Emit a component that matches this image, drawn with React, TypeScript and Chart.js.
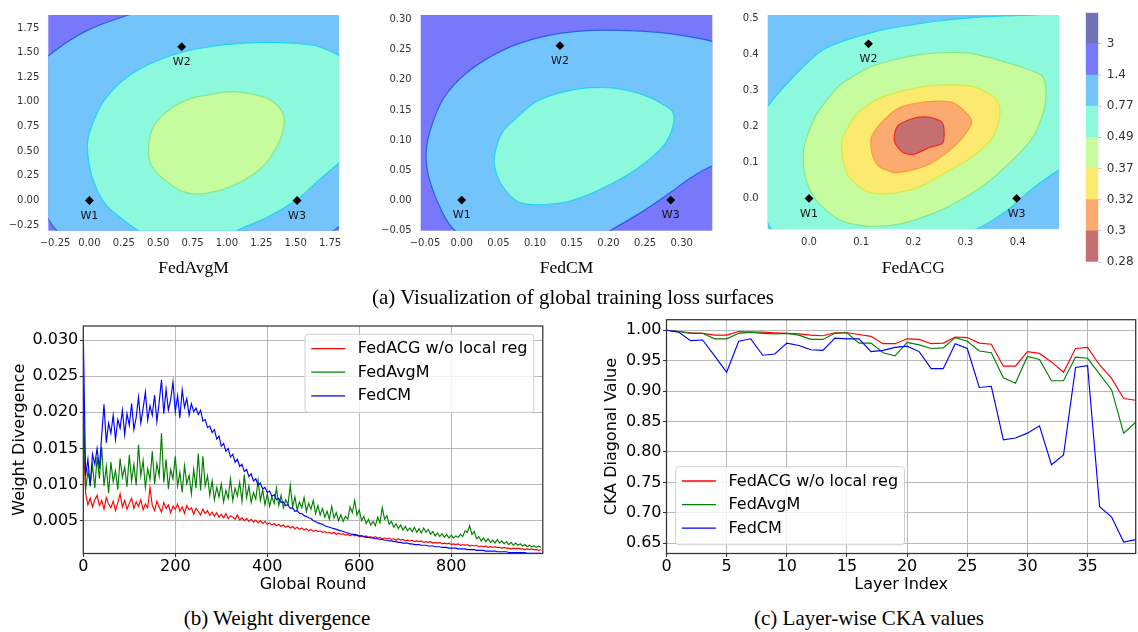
import React, { useEffect, useRef } from 'react';
import { Chart, registerables } from 'chart.js';

Chart.register(...registerables);

const SANS = "'DejaVu Sans', sans-serif";
const SERIF = "'Liberation Serif', 'Times New Roman', serif";
const MINUS = '\u2212';

type Pt = [number, number];

// ---------------- colour levels (colour bar, bottom -> top) ----------------
const levelLabels = ['0.28', '0.3', '0.32', '0.37', '0.49', '0.77', '1.4', '3'];
const bandColors = ['#c47070', '#fbaa70', '#fbe970', '#c6fb9e', '#8cf8dc', '#72c4fb', '#7878fa', '#7171b8'];
// line colours of the iso-lines 0.3, 0.32, 0.37, 0.49, 0.77, 1.4
const line030 = '#f22a1e';
const line032 = '#ff9933';
const line037 = '#d4ee44';
const line049 = '#86e886';
const line077 = '#22d3f5';
const line14 = '#2a5de8';

// ---------------- (a) FedAvgM surface ----------------
const avgmTicks = [-0.25, 0, 0.25, 0.5, 0.75, 1, 1.25, 1.5, 1.75];
const avgmMarkers: Pt[] = [[0, 0], [0.671, 1.559], [1.51, 0]];
const avgmUnder14: Pt[] = [
  [-0.5, 1.2], [-0.298, 1.468], [-0.044, 1.705], [0.283, 1.881], [0.75, 2.06], [1.55, 2.15], [2.1, 1.75],
  [2.25, 0.8], [2.08, 0.05], [1.816, -0.262], [1.775, -0.306], [1.45, -0.52], [0.75, -0.66], [-0.05, -0.52],
  [-0.238, -0.306], [-0.298, -0.19], [-0.45, 0.25], [-0.56, 0.8],
];
const avgmUnder077: Pt[] = [
  [1.816, 1.469], [1.617, 1.577], [1.193, 1.6], [0.805, 1.544], [0.514, 1.43], [0.272, 1.25], [0.102, 1.004],
  [0.005, 0.71], [-0.015, 0.546], [0.017, 0.252], [0.102, -0.01], [0.223, -0.173], [0.356, -0.306], [0.55, -0.45],
  [0.85, -0.48], [1.072, -0.306], [1.29, -0.173], [1.508, 0.007], [1.678, 0.219], [1.816, 0.383], [1.98, 0.62],
  [2.04, 1.0], [1.97, 1.33],
];
const avgmUnder049: Pt[] = [
  [0.429, 0.481], [0.453, 0.71], [0.538, 0.873], [0.708, 1.021], [0.926, 1.086], [1.072, 1.102], [1.29, 1.037],
  [1.399, 0.906], [1.416, 0.775], [1.375, 0.579], [1.265, 0.35], [1.096, 0.186], [0.853, 0.072], [0.684, 0.088],
  [0.538, 0.219], [0.453, 0.35],
];

// ---------------- (a) FedCM surface ----------------
const cmTicks = [-0.05, 0, 0.05, 0.1, 0.15, 0.2, 0.25, 0.3];
const cmMarkers: Pt[] = [[0, 0], [0.134, 0.257], [0.285, 0]];
const cmUnder14: Pt[] = [
  [-0.009, -0.051], [-0.0295, -0.0125], [-0.0455, 0.041], [-0.0486, 0.078], [-0.043, 0.116], [-0.025, 0.169],
  [0.0068, 0.212], [0.057, 0.25], [0.111, 0.272], [0.17, 0.282], [0.23, 0.282], [0.284, 0.277], [0.342, 0.264],
  [0.4, 0.24], [0.42, 0.15], [0.4, 0.08], [0.342, 0.057], [0.311, 0.036], [0.284, 0.012], [0.248, -0.018],
  [0.202, -0.051], [0.15, -0.085], [0.05, -0.09],
];
const cmUnder077: Pt[] = [
  [0.0445, 0.0733], [0.0545, 0.111], [0.0705, 0.132], [0.102, 0.164], [0.139, 0.18], [0.175, 0.187], [0.211, 0.186],
  [0.248, 0.175], [0.275, 0.159], [0.288, 0.146], [0.288, 0.122], [0.275, 0.09], [0.239, 0.052], [0.193, 0.02],
  [0.148, -0.0016], [0.102, -0.008], [0.075, -0.0016], [0.0545, 0.025], [0.0455, 0.052],
];

// ---------------- (a) FedACG surface ----------------
const acgTicks = [0, 0.1, 0.2, 0.3, 0.4];
const acgYTicks = [0, 0.1, 0.2, 0.3, 0.4, 0.5];
const acgMarkers: Pt[] = [[0, 0], [0.114, 0.429], [0.398, 0]];
const acgUnder077: Pt[] = [
  [-0.079, 0.256], [-0.036, 0.328], [0.027, 0.4125], [0.123, 0.4616], [0.251, 0.493], [0.35, 0.505], [0.44, 0.51],
  [0.56, 0.53], [0.62, 0.32], [0.57, 0.13], [0.479, 0.078], [0.43, 0.0286], [0.379, -0.034], [0.321, -0.085],
  [0.22, -0.13], [0.0, -0.13], [-0.0716, -0.085], [-0.079, -0.0697], [-0.12, 0.0], [-0.13, 0.14],
];
const acgUnder049: Pt[] = [
  [-0.0109, 0.1], [-0.0077, 0.154], [0.0147, 0.234], [0.0594, 0.314], [0.123, 0.368], [0.213, 0.399], [0.302, 0.404],
  [0.379, 0.377], [0.446, 0.341], [0.454, 0.305], [0.45, 0.243], [0.43, 0.171], [0.392, 0.109], [0.328, 0.0286],
  [0.251, -0.034], [0.174, -0.0715], [0.111, -0.0768], [0.0594, -0.0607], [0.0147, -0.0071], [-0.0045, 0.0464],
];
const acgUnder037: Pt[] = [
  [0.0626, 0.1447], [0.0658, 0.1715], [0.0914, 0.234], [0.1297, 0.274], [0.187, 0.301], [0.245, 0.314], [0.315, 0.31],
  [0.36, 0.274], [0.366, 0.234], [0.353, 0.1715], [0.315, 0.118], [0.264, 0.0732], [0.206, 0.0286], [0.149, 0.0125],
  [0.1105, 0.0196], [0.0786, 0.0554], [0.0658, 0.1],
];
const acgUnder032: Pt[] = [
  [0.1188, 0.1447], [0.12, 0.1715], [0.1425, 0.216], [0.1744, 0.252], [0.2256, 0.268], [0.2767, 0.265],
  [0.3118, 0.216], [0.2958, 0.1715], [0.2639, 0.127], [0.2256, 0.0911], [0.168, 0.0715], [0.136, 0.0866],
  [0.1233, 0.1134],
];
const acgUnder030: Pt[] = [
  [0.1636, 0.176], [0.1712, 0.2028], [0.2, 0.2224], [0.232, 0.2251], [0.2543, 0.2117], [0.2588, 0.1894],
  [0.2562, 0.1536], [0.232, 0.142], [0.216, 0.1313], [0.2, 0.1224], [0.1808, 0.1268], [0.1649, 0.1536],
];
const markerNames = ['W1', 'W2', 'W3'];

// ---------------- (b) Weight divergence ----------------
const roundsB = Array.from({ length: 200 }, (_, i) => i * 5);
const roundTicks = [0, 200, 400, 600, 800];
const divTicks = [0.005, 0.01, 0.015, 0.02, 0.025, 0.03];
const fedacgDiv = [
  0.0170, 0.0088, 0.0072, 0.0081, 0.0069, 0.0079, 0.0085, 0.0071, 0.0078, 0.0066,
  0.0082, 0.0073, 0.0068, 0.0077, 0.0064, 0.0075, 0.0087, 0.0069, 0.0078, 0.0066,
  0.0074, 0.0081, 0.0067, 0.0076, 0.0070, 0.0079, 0.0065, 0.0073, 0.0068, 0.0096,
  0.0071, 0.0064, 0.0077, 0.0069, 0.0062, 0.0075, 0.0067, 0.0072, 0.0061, 0.0070,
  0.0066, 0.0073, 0.0063, 0.0069, 0.0060, 0.0071, 0.0065, 0.0068, 0.0059, 0.0067,
  0.0063, 0.0058, 0.0066, 0.0060, 0.0064, 0.0057, 0.0062, 0.0056, 0.0061, 0.0055,
  0.0059, 0.0054, 0.0060, 0.0053, 0.0057, 0.0055, 0.0052, 0.0058, 0.0051, 0.0054,
  0.0050, 0.0053, 0.0049, 0.0052, 0.0048, 0.0051, 0.0047, 0.0050, 0.0046, 0.0049,
  0.0045, 0.0047, 0.0044, 0.0046, 0.0043, 0.0045, 0.0042, 0.0044, 0.0041, 0.0043,
  0.0040, 0.0042, 0.0039, 0.0041, 0.0038, 0.0040, 0.0037, 0.0039, 0.0036, 0.0038,
  0.0035, 0.0037, 0.0035, 0.0036, 0.0034, 0.0035, 0.0033, 0.0034, 0.0032, 0.0034,
  0.0031, 0.0033, 0.0031, 0.0032, 0.0030, 0.0031, 0.0029, 0.0031, 0.0029, 0.0030,
  0.0028, 0.0029, 0.0028, 0.0029, 0.0027, 0.0028, 0.0026, 0.0028, 0.0026, 0.0027,
  0.0025, 0.0026, 0.0025, 0.0026, 0.0024, 0.0025, 0.0023, 0.0025, 0.0023, 0.0024,
  0.0022, 0.0023, 0.0022, 0.0023, 0.0021, 0.0022, 0.0021, 0.0022, 0.0020, 0.0021,
  0.0020, 0.0021, 0.0019, 0.0020, 0.0019, 0.0020, 0.0018, 0.0019, 0.0018, 0.0019,
  0.0017, 0.0018, 0.0017, 0.0018, 0.0016, 0.0017, 0.0016, 0.0017, 0.0015, 0.0016,
  0.0015, 0.0016, 0.0014, 0.0015, 0.0014, 0.0015, 0.0013, 0.0014, 0.0013, 0.0014,
  0.0013, 0.0013, 0.0012, 0.0013, 0.0012, 0.0012, 0.0011, 0.0012, 0.0011, 0.0012,
  0.0011, 0.0011, 0.0010, 0.0011, 0.0010, 0.0011, 0.0010, 0.0010, 0.0009, 0.0010,
];
const fedavgmDiv = [
  0.0230, 0.0092, 0.0118, 0.0101, 0.0127, 0.0095, 0.0138, 0.0108, 0.0152, 0.0098,
  0.0125, 0.0088, 0.0131, 0.0104, 0.0119, 0.0093, 0.0136, 0.0110, 0.0124, 0.0097,
  0.0141, 0.0105, 0.0128, 0.0099, 0.0155, 0.0112, 0.0133, 0.0096, 0.0122, 0.0107,
  0.0146, 0.0101, 0.0129, 0.0112, 0.0171, 0.0103, 0.0135, 0.0094, 0.0121, 0.0108,
  0.0139, 0.0098, 0.0117, 0.0089, 0.0126, 0.0101, 0.0113, 0.0087, 0.0121, 0.0095,
  0.0143, 0.0092, 0.0139, 0.0098, 0.0112, 0.0085, 0.0105, 0.0079, 0.0096, 0.0083,
  0.0101, 0.0076, 0.0092, 0.0081, 0.0108, 0.0078, 0.0095, 0.0084, 0.0103, 0.0077,
  0.0114, 0.0082, 0.0098, 0.0075, 0.0089, 0.0080, 0.0106, 0.0078, 0.0093, 0.0072,
  0.0087, 0.0070, 0.0083, 0.0074, 0.0095, 0.0071, 0.0085, 0.0068, 0.0079, 0.0072,
  0.0099, 0.0069, 0.0083, 0.0065, 0.0076, 0.0068, 0.0082, 0.0063, 0.0074, 0.0066,
  0.0078, 0.0060, 0.0071, 0.0058, 0.0067, 0.0055, 0.0063, 0.0052, 0.0070, 0.0054,
  0.0061, 0.0050, 0.0058, 0.0049, 0.0056, 0.0052, 0.0069, 0.0061, 0.0078, 0.0058,
  0.0065, 0.0050, 0.0056, 0.0046, 0.0052, 0.0044, 0.0049, 0.0043, 0.0055, 0.0047,
  0.0068, 0.0052, 0.0057, 0.0045, 0.0049, 0.0041, 0.0046, 0.0039, 0.0044, 0.0037,
  0.0042, 0.0036, 0.0040, 0.0035, 0.0041, 0.0034, 0.0039, 0.0033, 0.0040, 0.0034,
  0.0038, 0.0031, 0.0035, 0.0029, 0.0033, 0.0028, 0.0032, 0.0027, 0.0031, 0.0026,
  0.0030, 0.0026, 0.0029, 0.0027, 0.0031, 0.0028, 0.0036, 0.0034, 0.0043, 0.0031,
  0.0035, 0.0025, 0.0028, 0.0022, 0.0026, 0.0021, 0.0025, 0.0020, 0.0023, 0.0019,
  0.0024, 0.0019, 0.0022, 0.0018, 0.0021, 0.0017, 0.0020, 0.0016, 0.0019, 0.0016,
  0.0018, 0.0015, 0.0017, 0.0014, 0.0016, 0.0014, 0.0015, 0.0013, 0.0015, 0.0013,
];
const fedcmDiv = [
  0.0310, 0.0112, 0.0135, 0.0098, 0.0142, 0.0128, 0.0150, 0.0122, 0.0168, 0.0211,
  0.0158, 0.0185, 0.0171, 0.0196, 0.0162, 0.0190, 0.0178, 0.0203, 0.0169, 0.0198,
  0.0182, 0.0212, 0.0176, 0.0193, 0.0221, 0.0185, 0.0205, 0.0228, 0.0189, 0.0209,
  0.0196, 0.0224, 0.0187, 0.0214, 0.0245, 0.0198, 0.0232, 0.0203, 0.0218, 0.0242,
  0.0201, 0.0223, 0.0192, 0.0231, 0.0207, 0.0219, 0.0196, 0.0212, 0.0201, 0.0206,
  0.0197, 0.0203, 0.0188, 0.0190, 0.0179, 0.0181, 0.0172, 0.0176, 0.0163, 0.0167,
  0.0153, 0.0157, 0.0146, 0.0150, 0.0138, 0.0142, 0.0131, 0.0135, 0.0125, 0.0128,
  0.0118, 0.0121, 0.0111, 0.0115, 0.0105, 0.0108, 0.0099, 0.0102, 0.0094, 0.0096,
  0.0089, 0.0091, 0.0084, 0.0086, 0.0079, 0.0081, 0.0075, 0.0076, 0.0071, 0.0072,
  0.0067, 0.0068, 0.0063, 0.0064, 0.0060, 0.0060, 0.0057, 0.0056, 0.0054, 0.0053,
  0.0050, 0.0049, 0.0047, 0.0046, 0.0045, 0.0043, 0.0042, 0.0041, 0.0040, 0.0039,
  0.0038, 0.0037, 0.0036, 0.0035, 0.0034, 0.0033, 0.0032, 0.0031, 0.0031, 0.0030,
  0.0029, 0.0029, 0.0028, 0.0027, 0.0027, 0.0026, 0.0026, 0.0025, 0.0025, 0.0024,
  0.0024, 0.0023, 0.0023, 0.0022, 0.0022, 0.0021, 0.0021, 0.0020, 0.0020, 0.0019,
  0.0019, 0.0019, 0.0018, 0.0018, 0.0017, 0.0017, 0.0017, 0.0016, 0.0016, 0.0016,
  0.0015, 0.0015, 0.0015, 0.0014, 0.0014, 0.0014, 0.0013, 0.0013, 0.0013, 0.0012,
  0.0012, 0.0012, 0.0012, 0.0011, 0.0011, 0.0011, 0.0011, 0.0010, 0.0010, 0.0010,
  0.0010, 0.0009, 0.0009, 0.0009, 0.0009, 0.0008, 0.0008, 0.0008, 0.0008, 0.0008,
  0.0007, 0.0007, 0.0007, 0.0007, 0.0007, 0.0006, 0.0006, 0.0006, 0.0006, 0.0006,
  0.0006, 0.0006, 0.0006, 0.0005, 0.0005, 0.0005, 0.0005, 0.0005, 0.0005, 0.0005,
];

// ---------------- (c) Layer-wise CKA ----------------
const layersC = Array.from({ length: 40 }, (_, i) => i);
const layerTicks = [0, 5, 10, 15, 20, 25, 30, 35];
const ckaTicks = [0.65, 0.7, 0.75, 0.8, 0.85, 0.9, 0.95, 1.0];
const fedacgCka = [
  1.0, 0.998, 0.996, 0.995, 0.992, 0.992, 0.998, 0.997, 0.997, 0.996,
  0.995, 0.994, 0.992, 0.991, 0.996, 0.996, 0.993, 0.99, 0.978, 0.978,
  0.986, 0.985, 0.978, 0.979, 0.989, 0.988, 0.979, 0.977, 0.941, 0.941,
  0.965, 0.962, 0.948, 0.931, 0.97, 0.972, 0.943, 0.921, 0.888, 0.885,
];
const fedavgmCka = [
  1.0, 0.998, 0.995, 0.995, 0.986, 0.986, 0.995, 0.997, 0.995, 0.994,
  0.995, 0.992, 0.985, 0.985, 0.995, 0.996, 0.979, 0.979, 0.963, 0.958,
  0.98, 0.976, 0.97, 0.971, 0.988, 0.982, 0.966, 0.963, 0.922, 0.913,
  0.957, 0.952, 0.917, 0.917, 0.956, 0.954, 0.928, 0.902, 0.831, 0.849,
];
const fedcmCka = [
  1.0, 0.997, 0.983, 0.984, 0.958, 0.931, 0.982, 0.986, 0.959, 0.961,
  0.979, 0.975, 0.968, 0.967, 0.987, 0.986, 0.986, 0.965, 0.967, 0.972,
  0.974, 0.965, 0.937, 0.937, 0.978, 0.97, 0.906, 0.908, 0.82, 0.823,
  0.831, 0.843, 0.779, 0.795, 0.939, 0.942, 0.71, 0.693, 0.652, 0.656,
];

const seriesNames = ['FedACG w/o local reg', 'FedAvgM', 'FedCM'];
const seriesColors = ['#ff0000', '#008000', '#0000ff'];

// ---------------- helpers ----------------
const fmt = (v: number, d: number) => (v < -1e-9 ? MINUS : '') + Math.abs(v).toFixed(d);
const toXY = (pts: Pt[]) => pts.map(([x, y]) => ({ x, y }));

const closedLoop = {
  id: 'closedLoop',
  afterDatasetUpdate(chart: any, args: any) {
    const ds: any = chart.data.datasets[args.index];
    if (ds && ds.closed && args.meta.dataset) {
      const line = args.meta.dataset;
      line._loop = true;
      line._fullLoop = true;
      delete line._segments;
      delete line._path;
      line._pointsUpdated = false;
    }
  },
};

const areaBg = (color: string) => ({
  id: 'areaBg',
  beforeDatasetsDraw(chart: any) {
    const { ctx, chartArea: a } = chart;
    ctx.save();
    ctx.fillStyle = color;
    ctx.fillRect(a.left, a.top, a.right - a.left, a.bottom - a.top);
    ctx.restore();
  },
});

const pointNames = (names: string[]) => ({
  id: 'pointNames',
  afterDatasetsDraw(chart: any) {
    const meta = chart.getDatasetMeta(0);
    const ctx = chart.ctx;
    ctx.save();
    ctx.font = `11px ${SANS}`;
    ctx.fillStyle = '#111';
    ctx.textAlign = 'center';
    ctx.textBaseline = 'middle';
    meta.data.forEach((el: any, i: number) => ctx.fillText(names[i], el.x, el.y + 15.5));
    ctx.restore();
  },
});

const frame = {
  id: 'frame',
  afterDatasetsDraw(chart: any) {
    const { ctx, chartArea: a } = chart;
    ctx.save();
    ctx.strokeStyle = '#333';
    ctx.lineWidth = 1.25;
    ctx.strokeRect(a.left, a.top, a.right - a.left, a.bottom - a.top);
    ctx.restore();
  },
};

const boxLegend = (anchor: 'tr' | 'bl') => ({
  id: 'boxLegend',
  afterDraw(chart: any) {
    const { ctx, chartArea: a } = chart;
    ctx.save();
    ctx.font = `16px ${SANS}`;
    const tw = Math.max(...seriesNames.map((s) => ctx.measureText(s).width));
    const w = 6.2 + 34 + 12.6 + tw + 6.4;
    const h = 78;
    const left = anchor === 'tr' ? a.right - 9 - w : a.left + 9.2;
    const top = anchor === 'tr' ? a.top + 8.3 : a.bottom - 8.8 - h;
    ctx.beginPath();
    if ((ctx as any).roundRect) (ctx as any).roundRect(left, top, w, h, 3);
    else ctx.rect(left, top, w, h);
    ctx.fillStyle = 'rgba(255,255,255,0.8)';
    ctx.fill();
    ctx.strokeStyle = '#d0d0d0';
    ctx.lineWidth = 1;
    ctx.stroke();
    seriesNames.forEach((name, i) => {
      const y = top + 14.3 + i * 23.6;
      ctx.beginPath();
      ctx.moveTo(left + 6.2, y);
      ctx.lineTo(left + 6.2 + 34, y);
      ctx.strokeStyle = seriesColors[i];
      ctx.lineWidth = 1.3;
      ctx.stroke();
      ctx.fillStyle = '#000';
      ctx.textAlign = 'left';
      ctx.textBaseline = 'middle';
      ctx.fillText(name, left + 6.2 + 34 + 12.6, y + 0.5);
    });
    ctx.restore();
  },
});

interface Region { pts: Pt[]; fill: string; line: string }
interface Surface {
  xMin: number; xMax: number; yMin: number; yMax: number;
  xTicks: number[]; yTicks: number[]; dec: number; bg: string;
  regions: Region[]; markers: Pt[]; tension: number;
  yAxisW: number; xAxisH: number; padTop: number; padRight: number;
}

function surfaceConfig(p: Surface): any {
  const datasets: any[] = [
    {
      data: toXY(p.markers), showLine: false, pointStyle: 'rectRot', pointRadius: 4.4,
      pointBackgroundColor: '#000', pointBorderColor: '#000', pointBorderWidth: 0, order: 0, clip: false,
    },
    ...p.regions.map((r, i) => ({
      data: toXY(r.pts), closed: true, fill: 'shape', backgroundColor: r.fill, borderColor: r.line,
      borderWidth: 1.2, pointRadius: 0, pointHitRadius: 0, tension: p.tension, spanGaps: true,
      capBezierPoints: false, clip: 0, order: 100 - i,
    })),
  ];
  const tickFont = { family: SANS, size: 10 };
  return {
    type: 'line',
    data: { datasets },
    plugins: [closedLoop, areaBg(p.bg), pointNames(markerNames)],
    options: {
      animation: false, responsive: false, devicePixelRatio: 1, events: [],
      layout: { autoPadding: false, padding: { left: 0, top: p.padTop, right: p.padRight, bottom: 0 } },
      plugins: { legend: { display: false }, tooltip: { enabled: false } },
      scales: {
        x: {
          type: 'linear', min: p.xMin, max: p.xMax,
          afterBuildTicks: (s: any) => { s.ticks = p.xTicks.map((v) => ({ value: v })); },
          afterFit: (s: any) => { s.height = p.xAxisH; },
          grid: { display: false, drawTicks: false }, border: { display: false },
          ticks: { autoSkip: false, maxRotation: 0, padding: 7, color: '#333', font: tickFont,
            callback: (v: any) => fmt(Number(v), p.dec) },
        },
        y: {
          type: 'linear', min: p.yMin, max: p.yMax,
          afterBuildTicks: (s: any) => { s.ticks = p.yTicks.map((v) => ({ value: v })); },
          afterFit: (s: any) => { s.width = p.yAxisW; },
          grid: { display: false, drawTicks: false }, border: { display: false },
          ticks: { autoSkip: false, padding: 9, color: '#333', font: tickFont,
            callback: (v: any) => fmt(Number(v), p.dec) },
        },
      },
    },
  };
}

const colorbarConfig = (): any => ({
  type: 'bar',
  data: {
    labels: [''],
    datasets: bandColors.map((c) => ({ data: [1], backgroundColor: c, borderWidth: 0, barPercentage: 1, categoryPercentage: 1 })),
  },
  options: {
    animation: false, responsive: false, devicePixelRatio: 1, events: [],
    layout: { autoPadding: false, padding: { left: 5.7, top: 7.3, right: 0, bottom: 13 } },
    plugins: { legend: { display: false }, tooltip: { enabled: false } },
    scales: {
      x: { display: false, stacked: true },
      y: {
        position: 'right', stacked: true, min: 0, max: levelLabels.length,
        afterBuildTicks: (s: any) => { s.ticks = levelLabels.map((_, i) => ({ value: i })); },
        afterFit: (s: any) => { s.width = 39.7; },
        grid: { drawOnChartArea: false, drawTicks: true, tickLength: 3, tickColor: '#c8c8c8', color: '#c8c8c8' },
        border: { display: false },
        ticks: { padding: 5.5, color: '#333', font: { family: SANS, size: 12 },
          callback: (v: any) => levelLabels[Math.round(Number(v))] },
      },
    },
  },
});

interface LinePanel {
  xs: number[]; series: number[][]; xMin: number; xMax: number; yMin: number; yMax: number;
  xTicks: number[]; yTicks: number[]; yDec: number; xTitle: string; yTitle: string;
  pad: { left: number; top: number; right: number; bottom: number }; yAxisW: number; xAxisH: number;
  legend: 'tr' | 'bl';
}

function lineConfig(p: LinePanel): any {
  const font = { family: SANS, size: 16 };
  const grid = { color: '#b8b8b8', lineWidth: 1, drawTicks: true, tickLength: 3.5, tickColor: '#333', tickWidth: 1.1 };
  return {
    type: 'line',
    data: {
      labels: p.xs,
      datasets: p.series.map((s, i) => ({
        label: seriesNames[i], data: s, borderColor: seriesColors[i], backgroundColor: seriesColors[i],
        borderWidth: 1.15, pointRadius: 0, tension: 0, fill: false, order: 3 - i,
      })),
    },
    plugins: [frame, boxLegend(p.legend)],
    options: {
      animation: false, responsive: false, devicePixelRatio: 1, events: [],
      layout: { autoPadding: false, padding: p.pad },
      plugins: { legend: { display: false }, tooltip: { enabled: false } },
      scales: {
        x: {
          type: 'linear', min: p.xMin, max: p.xMax,
          afterBuildTicks: (s: any) => { s.ticks = p.xTicks.map((v) => ({ value: v })); },
          afterFit: (s: any) => { s.height = p.xAxisH; },
          grid, border: { display: false },
          ticks: { autoSkip: false, maxRotation: 0, padding: 0.5, color: '#000', font, callback: (v: any) => String(v) },
          title: { display: true, text: p.xTitle, color: '#000', font, padding: 0 },
        },
        y: {
          type: 'linear', min: p.yMin, max: p.yMax,
          afterBuildTicks: (s: any) => { s.ticks = p.yTicks.map((v) => ({ value: v })); },
          afterFit: (s: any) => { s.width = p.yAxisW; },
          grid, border: { display: false },
          ticks: { autoSkip: false, padding: 1.5, color: '#000', font, callback: (v: any) => Number(v).toFixed(p.yDec) },
          title: { display: true, text: p.yTitle, color: '#000', font, padding: 0 },
        },
      },
    },
  };
}

function ChartCanvas(props: { left: number; top: number; width: number; height: number; build: () => any }) {
  const ref = useRef<HTMLCanvasElement | null>(null);
  useEffect(() => {
    if (!ref.current) return;
    const chart = new Chart(ref.current, props.build());
    return () => chart.destroy();
  }, []);
  const { left, top, width, height } = props;
  return (
    <canvas
      ref={ref}
      width={width}
      height={height}
      style={{ position: 'absolute', left, top, width, height, display: 'block' }}
    />
  );
}

function Caption(props: { x: number; y: number; size: number; text: string }) {
  return (
    <div
      style={{
        position: 'absolute', left: props.x, top: props.y, transform: 'translate(-50%, -50%)',
        fontFamily: SERIF, fontSize: props.size, lineHeight: 1, whiteSpace: 'nowrap', color: '#000',
      }}
    >
      {props.text}
    </div>
  );
}

export default function App() {
  const avgm: Surface = {
    xMin: -0.299, xMax: 1.815, yMin: -0.306, yMax: 1.881, xTicks: avgmTicks, yTicks: avgmTicks, dec: 2,
    bg: bandColors[6], tension: 0.35, markers: avgmMarkers,
    regions: [
      { pts: avgmUnder14, fill: bandColors[5], line: line14 },
      { pts: avgmUnder077, fill: bandColors[4], line: line077 },
      { pts: avgmUnder049, fill: bandColors[3], line: line049 },
    ],
    yAxisW: 48.3, xAxisH: 31.3, padTop: 7.3, padRight: 21,
  };
  const cm: Surface = {
    xMin: -0.0559, xMax: 0.3417, yMin: -0.051, yMax: 0.308, xTicks: cmTicks, yTicks: cmTicks, dec: 2,
    bg: bandColors[6], tension: 0.35, markers: cmMarkers,
    regions: [
      { pts: cmUnder14, fill: bandColors[5], line: line14 },
      { pts: cmUnder077, fill: bandColors[4], line: line077 },
    ],
    yAxisW: 48.7, xAxisH: 31.3, padTop: 7.3, padRight: 19.7,
  };
  const acg: Surface = {
    xMin: -0.0792, xMax: 0.4792, yMin: -0.085, yMax: 0.509, xTicks: acgTicks, yTicks: acgYTicks, dec: 1,
    bg: bandColors[5], tension: 0.25, markers: acgMarkers,
    regions: [
      { pts: acgUnder077, fill: bandColors[4], line: line077 },
      { pts: acgUnder049, fill: bandColors[3], line: line049 },
      { pts: acgUnder037, fill: bandColors[2], line: line037 },
      { pts: acgUnder032, fill: bandColors[1], line: line032 },
      { pts: acgUnder030, fill: bandColors[0], line: line030 },
    ],
    yAxisW: 27.7, xAxisH: 33, padTop: 7.3, padRight: 21,
  };
  const panelB: LinePanel = {
    xs: roundsB, series: [fedacgDiv, fedavgmDiv, fedcmDiv], xMin: 0, xMax: 999, yMin: 0.000462, yMax: 0.03194,
    xTicks: roundTicks, yTicks: divTicks, yDec: 3, xTitle: 'Global Round', yTitle: 'Weight Divergence',
    pad: { left: 10.4, top: 26, right: 27.2, bottom: 5.4 }, yAxisW: 72.9, xAxisH: 41.1, legend: 'tr',
  };
  const panelC: LinePanel = {
    xs: layersC, series: [fedacgCka, fedavgmCka, fedcmCka], xMin: 0, xMax: 39, yMin: 0.6332, yMax: 1.0174,
    xTicks: layerTicks, yTicks: ckaTicks, yDec: 2, xTitle: 'Layer Index', yTitle: 'CKA Diagonal Value',
    pad: { left: 31.9, top: 19.7, right: 2.3, bottom: 5.4 }, yAxisW: 64.6, xAxisH: 41.1, legend: 'bl',
  };

  return (
    <div style={{ position: 'absolute', left: 0, top: 0, width: 1138, height: 632, background: '#fff', overflow: 'hidden' }}>
      <ChartCanvas left={0} top={0} width={360} height={262} build={() => surfaceConfig(avgm)} />
      <ChartCanvas left={372} top={0} width={360} height={262} build={() => surfaceConfig(cm)} />
      <ChartCanvas left={740} top={0} width={340} height={262} build={() => surfaceConfig(acg)} />
      <ChartCanvas left={1080} top={0} width={58} height={275} build={colorbarConfig} />
      <ChartCanvas left={0} top={300} width={570} height={300} build={() => lineConfig(panelB)} />
      <ChartCanvas left={570} top={300} width={568} height={300} build={() => lineConfig(panelC)} />
      <Caption x={193.6} y={268} size={17.5} text="FedAvgM" />
      <Caption x={566.5} y={268} size={17.5} text="FedCM" />
      <Caption x={913.3} y={268} size={17.5} text="FedACG" />
      <Caption x={573} y={297} size={21} text="(a) Visualization of global training loss surfaces" />
      <Caption x={277} y={618} size={21} text="(b) Weight divergence" />
      <Caption x={869} y={618} size={21} text="(c) Layer-wise CKA values" />
    </div>
  );
}
